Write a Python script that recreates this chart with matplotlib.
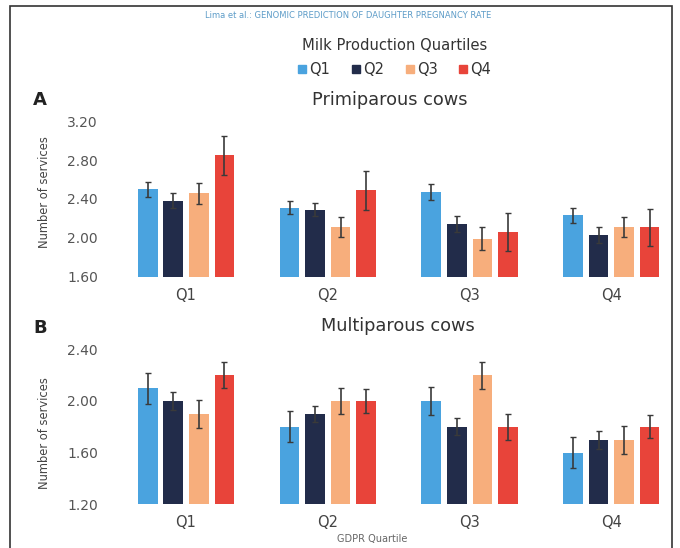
import matplotlib
matplotlib.use("Agg")
import matplotlib.pyplot as plt
from matplotlib.lines import Line2D
from matplotlib.patches import Rectangle
import numpy as np

plt.rcParams["font.family"] = ["DejaVu Sans"]

# GDPR quartile groups on the x axis
groups = ["Q1", "Q2", "Q3", "Q4"]
milk_quartiles = ["Q1", "Q2", "Q3", "Q4"]
colors = ["#4aa3df", "#222c4a", "#f7ae7c", "#e8443a"]

# Primiparous cows: mean number of services per milk quartile (rows) by GDPR quartile
prim_means = [
    [2.50, 2.31, 2.47, 2.23],
    [2.38, 2.29, 2.14, 2.03],
    [2.46, 2.11, 1.99, 2.11],
    [2.85, 2.49, 2.06, 2.11],
]
prim_err = [
    [0.075, 0.07, 0.085, 0.075],
    [0.077, 0.07, 0.085, 0.08],
    [0.11, 0.10, 0.12, 0.10],
    [0.20, 0.20, 0.20, 0.19],
]

# Multiparous cows
multi_means = [
    [2.10, 1.80, 2.00, 1.60],
    [2.00, 1.90, 1.80, 1.70],
    [1.90, 2.00, 2.20, 1.70],
    [2.20, 2.00, 1.80, 1.80],
]
multi_err = [
    [0.12, 0.12, 0.11, 0.12],
    [0.07, 0.06, 0.065, 0.07],
    [0.11, 0.10, 0.105, 0.11],
    [0.10, 0.09, 0.10, 0.09],
]

prim_ticks = [1.60, 2.00, 2.40, 2.80, 3.20]
multi_ticks = [1.20, 1.60, 2.00, 2.40]

W, H = 680, 548
fig = plt.figure(figsize=(W / 100, H / 100), dpi=100, facecolor="white")


def px(x, y):
    return x / W, 1 - y / H


def draw_panel(ax, means, errs, ticks):
    x = np.arange(len(groups))
    offsets = [-0.27, -0.09, 0.09, 0.27]
    for i in range(len(milk_quartiles)):
        ax.bar(x + offsets[i], means[i], width=0.138, color=colors[i],
               yerr=errs[i], zorder=2,
               error_kw=dict(ecolor="#3a3a3a", elinewidth=1.2, capsize=2.2, capthick=1.0))
    ax.set_ylim(ticks[0], ticks[-1])
    ax.set_xlim(-0.494, 3.40)
    ax.set_yticks(ticks)
    ax.set_yticklabels([f"{t:.2f}" for t in ticks])
    ax.set_xticks(x)
    ax.set_xticklabels(groups)
    ax.tick_params(axis="y", length=0, pad=13, labelsize=10, labelcolor="#555555")
    ax.tick_params(axis="x", length=0, pad=8, labelsize=10.5, labelcolor="#444444")
    for s in ax.spines.values():
        s.set_visible(False)


left, right = 116 / W, 668 / W
ax_a = fig.add_axes([left, 1 - 276.5 / H, right - left, 155 / H])
ax_b = fig.add_axes([left, 1 - 504.3 / H, right - left, 155 / H])
draw_panel(ax_a, prim_means, prim_err, prim_ticks)
draw_panel(ax_b, multi_means, multi_err, multi_ticks)

# outer frame of the page
fig.patches.append(Rectangle(px(10, 560), (672 - 10) / W, (560 - 6) / H,
                             transform=fig.transFigure, fill=False,
                             edgecolor="#333333", linewidth=1.2))

fig.text(*px(348, 15), "Lima et al.: GENOMIC PREDICTION OF DAUGHTER PREGNANCY RATE",
         ha="center", va="center", fontsize=6, color="#5d9cc8")
fig.text(*px(395, 45), "Milk Production Quartiles", ha="center", va="center",
         fontsize=10.6, color="#333333")

handles = [Line2D([], [], marker="s", linestyle="none", markersize=5.5,
                  markerfacecolor=c, markeredgecolor=c) for c in colors]
fig.legend(handles, milk_quartiles, loc="center", bbox_to_anchor=px(395, 70),
           ncol=4, frameon=False, fontsize=10.5, handlelength=0.5,
           handletextpad=0.25, columnspacing=1.5, borderpad=0,
           labelcolor="#333333")

fig.text(*px(40, 100), "A", ha="center", va="center", fontsize=13,
         fontweight="bold", color="#222222")
fig.text(*px(390, 100), "Primiparous cows", ha="center", va="center",
         fontsize=12.8, color="#333333")
fig.text(*px(40, 328), "B", ha="center", va="center", fontsize=13,
         fontweight="bold", color="#222222")
fig.text(*px(398, 326), "Multiparous cows", ha="center", va="center",
         fontsize=12.8, color="#333333")

fig.text(*px(45, 192), "Number of services", rotation=90, ha="center",
         va="center", fontsize=8.3, color="#444444")
fig.text(*px(45, 433), "Number of services", rotation=90, ha="center",
         va="center", fontsize=8.3, color="#444444")

fig.text(*px(372, 539), "GDPR Quartile", ha="center", va="center",
         fontsize=7, color="#666666")

fig.savefig("out.png", dpi=100, facecolor="white")
